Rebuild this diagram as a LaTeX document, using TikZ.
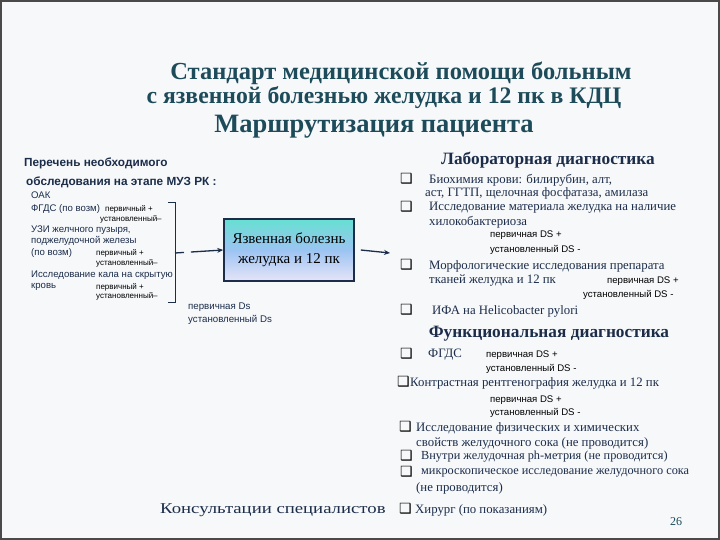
\documentclass[tikz,border=0pt]{standalone}
\usepackage{fontspec}
\setmainfont{Liberation Serif}
\newfontfamily\sansf{Liberation Sans}
\newfontfamily\dejav{DejaVu Sans}
\usetikzlibrary{arrows.meta}
\definecolor{bgc}{HTML}{F6F8FA}
\definecolor{framec}{HTML}{4A4A4A}
\definecolor{titlec}{HTML}{1D4B5A}
\definecolor{navy}{HTML}{1C2D4A}
\definecolor{boxtop}{HTML}{66E0D2}
\definecolor{boxmid}{HTML}{9CC4F2}
\definecolor{boxbot}{HTML}{E6E4F8}
\newcommand\bxg{{\dejav\fontsize{14}{14}\selectfont\char"2751}}
\tikzset{
  title/.style={inner sep=0, text=titlec, font=\bfseries\fontsize{24.5}{24.5}\selectfont},
  lhead/.style={inner sep=0, anchor=west, text=navy, font=\sansf\bfseries\fontsize{11.8}{11.8}\selectfont},
  litem/.style={inner sep=0, anchor=west, text=navy, font=\sansf\fontsize{9.6}{9.6}\selectfont},
  small/.style={inner sep=0, anchor=west, text=black, font=\sansf\fontsize{8}{8}\selectfont},
  smallr/.style={inner sep=0, anchor=west, text=black, font=\sansf\fontsize{9.6}{9.6}\selectfont},
  smallb/.style={inner sep=0, anchor=west, text=navy, font=\sansf\fontsize{9.7}{9.7}\selectfont},
  rhead/.style={inner sep=0, text=navy, font=\bfseries\fontsize{17.3}{17.3}\selectfont},
  ritem/.style={inner sep=0, anchor=west, text=navy, font=\fontsize{12.8}{12.8}\selectfont},
  bul/.style={inner sep=0, anchor=west, text=black},
  conn/.style={draw=navy, line width=1.3pt},
  tip/.style={-{Stealth[length=6pt,width=5pt]}}
}
\begin{document}
\begin{tikzpicture}[x=1pt,y=-1pt]
\useasboundingbox (0,0) rectangle (720,540);
\fill[bgc] (0,0) rectangle (720,540);
\draw[framec, line width=2pt] (1,1) rectangle (719,539);

% titles
\node[title] (t1) at (401,73) {Стандарт медицинской помощи больным};
\node[title, font=\bfseries\fontsize{23.7}{23.7}\selectfont] (t2) at (384,98) {с язвенной болезнью желудка и 12 пк в  КДЦ};
\node[title, font=\bfseries\fontsize{26.5}{26.5}\selectfont] (t3) at (374,127) {Маршрутизация пациента};

% left list
\node[lhead] (lh1) at (24,163) {Перечень необходимого};
\node[lhead] (lh2) at (26,182) {обследования на этапе МУЗ РК :};
\node[litem] (l1) at (31,195) {ОАК};
\node[litem] (l2) at (31,209) {ФГДС (по возм)};
\node[small] (l2a) at (105,209) {первичный +};
\node[small] (l2b) at (100,219) {установленный–};
\node[litem] (l3) at (31,230) {УЗИ  желчного пузыря,};
\node[litem] (l3b) at (31,241) {поджелудочной железы};
\node[litem] (l3c) at (31,253) {(по возм)};
\node[small] (l3d) at (96,253) {первичный +};
\node[small] (l3e) at (96,263) {установленный–};
\node[litem] (l4) at (31,275) {Исследование кала на скрытую};
\node[litem] (l4b) at (31,287) {кровь};
\node[small] (l4c) at (96,287) {первичный +};
\node[small] (l4d) at (96,296) {установленный–};

% brace
\draw[conn, line width=1pt] (168,203) -- (175,203) -- (175,302) -- (168,302);
\coordinate (bm) at (175,253);

% central box
\node[draw=navy, line width=1.6pt, minimum width=130pt, minimum height=62pt,
      top color=boxtop, bottom color=boxbot, middle color=boxmid, inner sep=0,
      align=center, text=black, font=\fontsize{15}{20}\selectfont] (box) at (289,250)
      {Язвенная болезнь\\желудка и 12 пк};
\draw[conn, tip, dash pattern=on 9pt off 7pt on 40pt] (bm) -- (box.west);
\coordinate (la) at (390,253);
\draw[conn, tip] ([xshift=6pt]box.east) -- (la);

\node[smallb] (d1) at (188,307) {первичная Ds};
\node[smallb] (d2) at (188,320) {установленный Ds};

% lab diagnostics
\node[rhead] (rh1) at (548,160) {Лабораторная диагностика};
\node[bul] (b1) at (400,179) {\bxg};
\node[ritem] (r1) at (429,180) {Биохимия крови: билирубин, алт,};
\node[ritem] (r1b) at (425,193) {аст, ГГТП, щелочная фосфатаза,  амилаза};
\node[bul] (b2) at (400,207) {\bxg};
\node[ritem] (r2) at (429,208) {Исследование материала желудка на наличие};
\node[ritem] (r2b) at (429,222) {хилокобактериоза};
\node[smallr] (r2c) at (490,235) {первичная DS +};
\node[smallr] (r2d) at (490,250) {установленный DS -};
\node[bul] (b3) at (400,265) {\bxg};
\node[ritem] (r3) at (429,266) {Морфологические исследования препарата};
\node[ritem] (r3b) at (429,280) {тканей желудка и 12 пк};
\node[smallr] (r3c) at (607,281) {первичная DS +};
\node[smallr] (r3d) at (583,295) {установленный DS -};
\node[bul] (b4) at (400,310) {\bxg};
\node[ritem] (r4) at (432,311) {ИФА на Helicobacter pylori};

% functional diagnostics
\node[rhead] (rh2) at (549,334) {Функциональная диагностика};
\node[bul] (b5) at (400,354) {\bxg};
\node[ritem] (r5) at (428,355) {ФГДС};
\node[smallr] (r5a) at (486,355) {первичная DS +};
\node[smallr] (r5b) at (486,369) {установленный DS -};
\node[bul] (b6) at (397,382) {\bxg};
\node[ritem] (r6) at (410,383) {Контрастная рентгенография желудка и 12 пк};
\node[smallr] (r6a) at (490,400) {первичная DS +};
\node[smallr] (r6b) at (490,413) {установленный DS -};
\node[bul] (b7) at (399,427) {\bxg};
\node[ritem] (r7) at (416,428) {Исследование физических и химических};
\node[ritem] (r7b) at (416,443) {свойств желудочного сока (не проводится)};
\node[bul] (b8) at (400,456) {\bxg};
\node[ritem, font=\fontsize{12.3}{12.3}\selectfont] (r8) at (421,457) {Внутри желудочная ph-метрия (не  проводится)};
\node[bul] (b9) at (400,472) {\bxg};
\node[ritem, font=\fontsize{12.3}{12.3}\selectfont] (r9) at (421,473) {микроскопическое исследование  желудочного сока};
\node[ritem] (r9b) at (416,488) {(не проводится)};

% consultations
\node[inner sep=0, anchor=west, text=navy, font=\fontsize{15}{15}\selectfont] (cs) at (160,510) {\scalebox{1.25}[1]{Консультации  специалистов}};
\node[bul] (b10) at (399,509) {\bxg};
\node[ritem] (r10) at (415,510) {Хирург (по показаниям)};
\node[inner sep=0, text=titlec, font=\fontsize{12}{12}\selectfont] (pg) at (676,522) {26};
\end{tikzpicture}
\end{document}
